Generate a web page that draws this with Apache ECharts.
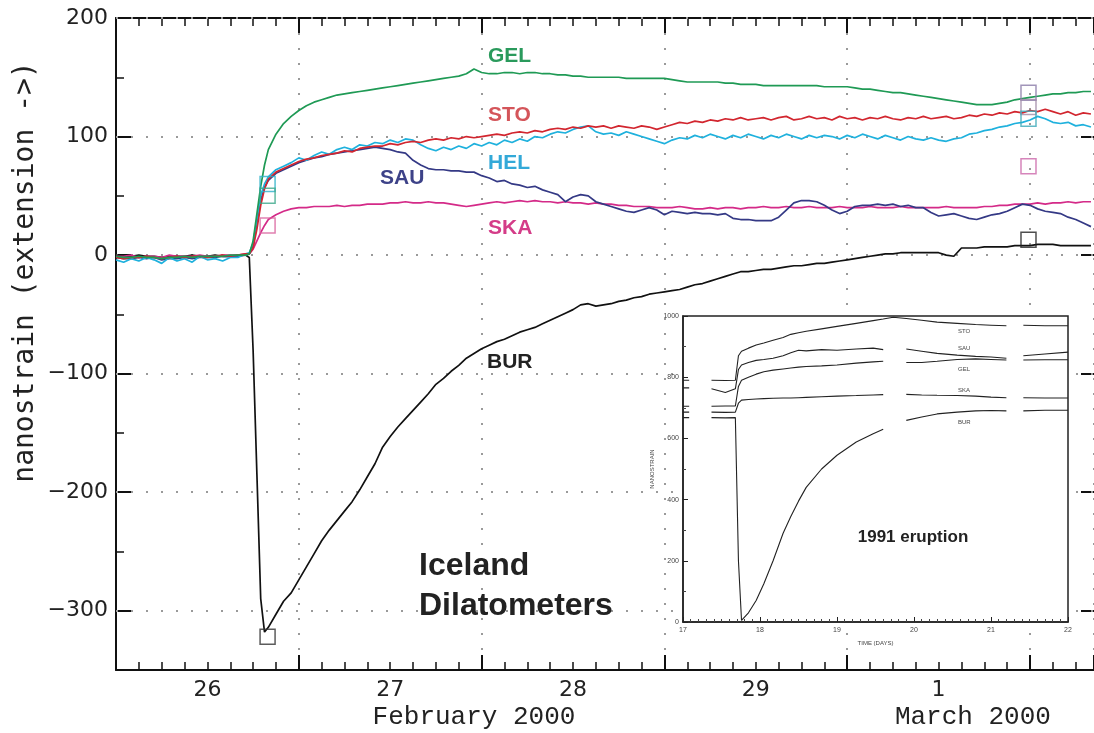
<!DOCTYPE html>
<html><head><meta charset="utf-8">
<script src="https://cdn.jsdelivr.net/npm/echarts@6/dist/echarts.min.js"></script>
<style>html,body{margin:0;padding:0;background:#fff;}#c{width:1094px;height:733px;}</style>
</head><body><div id="c"></div>
<script>
// ---------- main chart: hours since 26 Feb 2000 00:00 ----------
const hours = [0,1,2,3,4,5,6,7,8,9,10,11,12,13,14,15,16,17,17.5,18,18.5,19,19.5,
20,21,22,23,24,25,26,27,28,29,30,31,32,33,34,35,36,37,38,39,40,41,42,43,44,45,46,47,48,49,
50,51,52,53,54,55,56,57,58,59,60,61,62,63,64,65,66,67,68,69,70,71,72,73,74,75,76,77,78,79,
80,81,82,83,84,85,86,87,88,89,90,91,92,93,94,95,96,97,98,99,100,101,102,103,104,105,106,107,108,109,
110,111,112,113,114,115,116,117,118,119,120,121,122,123,124,125,126,127,128];

const GEL = [-1,-2,-2,-1,-2,-2,-3,-2,-2,-1,-2,-1,-1,-1,-1,0,0,0, 1,12,35,58,76,
89,102,111,117,122,126,129,131,133,135, 136,137,138,139,140,141,142,143,144,145,
146,147,148,149,150,151,153,157,154,153, 153,154,154,153,154,154,153,153,152,152,
151,151,150,150,150,150,150,149,149,149, 149,149,149,148,147,146,146,146,146,146,
145,145,144,144,144,143,143,143,143,143, 143,143,143,142,142,142,142,141,140,140,
139,138,137,137,136,135,134,133,132,131, 130,129,128,127,127,127,128,129,131,132,
133,134,135,136,136,137,137,138,138];

const STO = [-2,-3,-2,-2,-1,-2,-3,-2,-1,-2,-1,-1,-2,-1,0,-1,0,1, 1,6,22,42,56,
64,70,73,76,79,81,82,84,85,86, 88,87,90,91,92,92,94,93,95,96,
95,97,98,97,99,98,100,99,100,101, 102,101,103,104,103,105,104,106,107,106,
108,107,109,108,109,107,109,108,107,109, 108,106,108,110,112,111,113,112,114,113,
115,114,116,114,115,116,114,116,117,114, 115,117,115,116,114,117,115,116,114,116,
115,117,115,114,116,115,117,115,116,117, 115,116,118,117,119,118,120,119,121,120,
122,121,123,121,119,121,118,120,119];

const HEL = [-4,-6,-3,-5,-2,-4,-7,-2,-5,-3,-6,-1,-4,-3,-5,-2,-2,1, 2,10,30,50,60,
66,72,75,78,82,80,84,87,85,89, 91,89,93,92,95,94,97,95,98,97,
93,90,88,91,89,92,90,94,92,95, 93,97,95,98,96,100,99,102,104,103,
106,108,109,104,102,103,101,104,102,100, 98,96,94,97,99,98,101,99,102,100,
98,101,99,102,100,98,101,99,102,100, 98,101,99,101,100,98,101,99,102,100,
98,101,99,97,100,98,97,99,97,96, 98,99,102,103,105,106,108,109,111,112,
114,117,115,112,111,112,109,110,108];

const SAU = [-2,-3,-3,-2,-3,-2,-4,-3,-3,-2,-3,-2,-2,-2,-1,-1,-1,0, 1,8,28,46,57,
63,69,72,75,78,80,82,83,85,86, 87,88,89,90,91,90,89,87,86,80,
76,73,72,72,71,71,70,70,67,65, 62,63,60,59,57,58,55,53,51,45,
49,51,50,45,43,41,39,37,36,38, 40,38,34,37,36,35,36,35,35,34,
35,31,30,30,29,29,29,32,38,44, 46,46,45,42,38,35,37,41,42,42,
43,42,43,41,42,40,40,36,33,34, 35,33,31,30,32,34,35,37,40,43,
42,39,37,36,35,32,30,27,24];

const SKA = [-1,-1,0,-2,-1,-1,-2,0,-1,-1,-1,0,-1,-1,0,0,0,1, 1,5,12,19,25,
30,34,37,39,40,40,41,41,41,42, 41,42,42,43,43,43,44,44,45,44,
44,45,44,44,43,42,41,42,43,44, 45,44,45,46,45,46,45,45,44,45,
44,44,43,44,43,43,42,42,41,41, 41,40,40,40,41,40,39,39,40,39,
40,40,39,40,40,41,40,40,41,40, 40,41,40,40,40,41,40,40,40,41,
40,40,40,41,40,40,40,40,40,41, 40,40,40,40,41,41,42,42,43,43,
43,44,43,44,44,45,44,45,45];

const BUR = [0,-1,-1,0,-1,-1,-2,-1,-1,-1,0,-1,-1,0,-1,-1,0,0, -2,-80,-185,-290,-318,
-314,-303,-292,-285,-274,-263,-252,-241,-232,-224, -216,-208,-198,-187,-176,-162,-153,-145,-138,-131,
-124,-117,-109,-104,-98,-93,-87,-83,-79,-76, -73,-71,-68,-65,-63,-61,-58,-55,-52,-49,
-46,-42,-41,-43,-42,-41,-39,-38,-36,-35, -33,-32,-31,-30,-29,-27,-25,-24,-22,-20,
-18,-16,-14,-14,-13,-12,-12,-11,-10,-9, -9,-8,-7,-7,-6,-5,-4,-3,-2,-1,
0,1,1,2,2,2,2,2,2,0, -1,6,6,6,7,7,7,7,8,8,
8,9,9,9,8,8,8,8,8];

// square markers (hour, value)
const sqHours  = [19.9, 19.9, 19.9, 19.9, 119.8, 119.8, 119.8, 119.8, 119.8];
const sqValues = [60, 50, 25, -322, 137, 125, 115, 75, 13];

// axis ticks / labels
const yLabelValues = [-300, -200, -100, 0, 100, 200];
const dayPos    = [12, 36, 60, 84, 108];
const dayLabels = ['26', '27', '28', '29', '1'];
const monthPos    = [47, 112.5];
const monthLabels = ['February 2000', 'March 2000'];

// ---------- inset: 1991 eruption ----------
const insetDays = [17.0,17.08,17.2,17.37,17.55,17.68,17.72,17.76,17.85,17.95,18.05,18.17,18.3,18.4,18.5,18.6,18.8,
19.0,19.25,19.47,19.6,19.73,19.9,20.1,20.3,20.56,20.8,21.0,21.2,21.3,21.42,21.7,22.0];
const inSTO = [790,790,null,790,789,790,870,885,895,905,912,921,930,940,945,950,958,966,976,985,990,996,992,986,980,976,972,970,968,null,970,968,968];
const inSAU = [765,765,null,762,750,762,825,840,848,855,858,862,870,880,888,886,890,888,892,895,890,null,892,885,878,872,868,866,862,null,870,876,882];
const inGEL = [705,705,null,705,706,706,770,790,800,810,818,823,827,830,833,835,837,840,846,850,852,null,848,848,852,858,860,858,856,null,856,857,857];
const inSKA = [686,686,null,686,685,686,715,725,727,729,730,731,732,732,733,734,736,738,740,742,743,null,744,742,741,740,738,735,733,null,733,732,732];
const inBUR = [668,668,null,668,667,668,200,5,30,70,125,200,290,345,395,440,500,545,588,615,630,null,659,670,680,686,690,691,690,null,690,692,692];

// ---------- styles ----------
const X_MAX = 128.4;   // right edge of the picture
const colors = {GEL:'#1f9a55', STO:'#d2262f', HEL:'#1fb1dd', SAU:'#343985', SKA:'#d42a88', BUR:'#111111'};
const sqColors = ['#2ab0c8', '#3aa88a', '#d8609c', '#333333', '#8a7aa8', '#a08aa8', '#3aa8b8', '#cc66aa', '#222222'];
const dotted = {type:[2,13], color:'#9a9a9a', width:2};
const tickLong  = {show:true, inside:true, length:15, lineStyle:{color:'#111', width:2}};
const tickShort = {show:true, inside:true, length:8, lineStyle:{color:'#111', width:1.5}};

const chart = echarts.init(document.getElementById('c'), null, {renderer:'canvas'});

function mainLine(name, vals, z) {
  return {
    type:'line', name, xAxisIndex:0, yAxisIndex:0, showSymbol:false, symbol:'none',
    data: hours.map((h,i)=>[h, vals[i]]),
    lineStyle:{color:colors[name], width:1.7}, z: z, silent:true
  };
}
function insetLine(name, vals) {
  return {
    type:'line', name:'in'+name, xAxisIndex:5, yAxisIndex:3, showSymbol:false, symbol:'none',
    connectNulls:false, data: insetDays.map((d,i)=>[d, vals[i]]),
    lineStyle:{color:'#222', width:1.1}, z:4, silent:true
  };
}

const series = [
  Object.assign(mainLine('BUR', BUR, 2), {
    markLine:{silent:true, symbol:'none', z:1, animation:false, label:{show:false},
      lineStyle:dotted, data: yLabelValues.map(v=>({yAxis:v}))}
  }),
  mainLine('SKA', SKA, 2),
  mainLine('SAU', SAU, 2),
  mainLine('HEL', HEL, 2),
  mainLine('STO', STO, 2),
  mainLine('GEL', GEL, 2),
  {
    type:'scatter', xAxisIndex:0, yAxisIndex:0, symbol:'rect', symbolSize:15, z:3, silent:true,
    data: sqHours.map((h,i)=>({value:[h, sqValues[i]], itemStyle:{color:'rgba(0,0,0,0)', borderColor:sqColors[i], borderWidth:1.5}}))
  },
  insetLine('STO', inSTO), insetLine('SAU', inSAU), insetLine('GEL', inGEL),
  insetLine('SKA', inSKA), insetLine('BUR', inBUR)
];

const txt = (text, x, y, font, fill, align, extra) => Object.assign({
  type:'text', x, y, z:20, silent:true,
  style:{text, font, fill, align:align||'left', textAlign:align||'left', verticalAlign:'middle', textVerticalAlign:'middle'}
}, extra||{});

const hidden = () => ({axisLine:{show:false, onZero:false}, axisLabel:{show:false}, splitLine:{show:false}});

const option = {
  animation:false,
  backgroundColor:'#ffffff',
  grid:[
    {left:116, top:18, right:0, height:652, show:false},
    {left:683, top:316, width:385, height:306, show:true, backgroundColor:'#ffffff', borderColor:'#222', borderWidth:1.5, z:2}
  ],
  xAxis:[
    {gridIndex:0, type:'value', position:'bottom', min:0, max:X_MAX, interval:24,
     axisLine:{show:true, onZero:false, lineStyle:{color:'#111', width:2}},
     axisTick:tickLong,
     splitLine:{show:true, lineStyle:dotted},
     axisLabel:{customValues:dayPos, formatter:v=>dayLabels[dayPos.indexOf(v)],
       fontFamily:'DejaVu Sans', fontSize:22, color:'#222', margin:9}},
    Object.assign({gridIndex:0, type:'value', position:'bottom', min:0, max:X_MAX, interval:3, axisTick:tickShort}, hidden()),
    {gridIndex:0, type:'value', position:'top', min:0, max:X_MAX, interval:24,
     axisLine:{show:true, onZero:false, lineStyle:{color:'#111', width:2}},
     axisTick:tickLong, splitLine:{show:false}, axisLabel:{show:false}},
    Object.assign({gridIndex:0, type:'value', position:'top', min:0, max:X_MAX, interval:3, axisTick:tickShort}, hidden()),
    {gridIndex:0, type:'value', position:'bottom', min:0, max:X_MAX,
     axisLine:{show:false, onZero:false}, axisTick:{show:false}, splitLine:{show:false},
     axisLabel:{customValues:monthPos, formatter:v=>monthLabels[monthPos.indexOf(v)],
       fontFamily:'Liberation Mono', fontSize:26, color:'#222', margin:34}},
    {gridIndex:1, type:'value', min:17, max:22, interval:1, z:5,
     axisLine:{show:true, onZero:false, lineStyle:{color:'#222', width:1.5}},
     axisTick:{show:true, inside:true, length:5, lineStyle:{color:'#222'}},
     minorTick:{show:true, splitNumber:10, length:3, lineStyle:{color:'#444'}},
     splitLine:{show:false},
     axisLabel:{fontFamily:'Liberation Sans', fontSize:7, color:'#444', margin:5},
     name:'TIME (DAYS)', nameLocation:'middle', nameGap:18,
     nameTextStyle:{fontFamily:'Liberation Sans', fontSize:6, color:'#444'}}
  ],
  yAxis:[
    {gridIndex:0, type:'value', position:'left', min:-350, max:200, interval:50,
     axisLine:{show:true, onZero:false, lineStyle:{color:'#111', width:2}},
     axisTick:{show:true, inside:true, length:16, customValues:yLabelValues, lineStyle:{color:'#111', width:2}},
     axisLabel:{customValues:yLabelValues, formatter:v=>String(v).replace('-', '\u2212'),
       fontFamily:'DejaVu Sans', fontSize:22, color:'#222', margin:8},
     splitLine:{show:false}},
    Object.assign({gridIndex:0, type:'value', position:'left', min:-350, max:200, interval:50, axisTick:tickShort}, hidden()),
    {gridIndex:0, type:'value', position:'right', offset:2, min:-350, max:200, interval:50,
     axisLine:{show:true, onZero:false, lineStyle:{color:'#111', width:2}},
     axisTick:{show:true, inside:true, length:15, customValues:yLabelValues, lineStyle:{color:'#111', width:2}},
     axisLabel:{show:false}, splitLine:{show:false}},
    {gridIndex:1, type:'value', min:0, max:1000, interval:200, z:5,
     axisLine:{show:true, onZero:false, lineStyle:{color:'#222', width:1.5}},
     axisTick:{show:true, inside:true, length:5, lineStyle:{color:'#222'}},
     minorTick:{show:true, splitNumber:2, length:3, lineStyle:{color:'#444'}},
     splitLine:{show:false},
     axisLabel:{formatter:v=>String(v), fontFamily:'Liberation Sans', fontSize:7, color:'#444', margin:4},
     name:'NANOSTRAIN', nameLocation:'middle', nameGap:28,
     nameTextStyle:{fontFamily:'Liberation Sans', fontSize:6, color:'#444'}}
  ],
  graphic:[
    txt('nanostrain (extension ->)', 26, 272, '28px "DejaVu Sans Mono"', '#222', 'center', {rotation:Math.PI/2}),
    txt('GEL', 488, 56, 'bold 21px "Liberation Sans"', '#2a9a5c'),
    txt('STO', 488, 115, 'bold 21px "Liberation Sans"', '#d4555a'),
    txt('HEL', 488, 163, 'bold 21px "Liberation Sans"', '#33a9d8'),
    txt('SAU', 380, 178, 'bold 21px "Liberation Sans"', '#3d4288'),
    txt('SKA', 488, 228, 'bold 21px "Liberation Sans"', '#d43c88'),
    txt('BUR', 487, 362, 'bold 21px "Liberation Sans"', '#222'),
    txt('Iceland', 419, 566, 'bold 32px "Liberation Sans"', '#222'),
    txt('Dilatometers', 419, 606, 'bold 32px "Liberation Sans"', '#222'),
    txt('1991 eruption', 913, 537, 'bold 17px "Liberation Sans"', '#222', 'center'),
    txt('STO', 958, 331, '6px "Liberation Sans"', '#444'),
    txt('SAU', 958, 348, '6px "Liberation Sans"', '#444'),
    txt('GEL', 958, 369, '6px "Liberation Sans"', '#444'),
    txt('SKA', 958, 390, '6px "Liberation Sans"', '#444'),
    txt('BUR', 958, 422, '6px "Liberation Sans"', '#444')
  ],
  series
};
chart.setOption(option);
</script></body></html>
